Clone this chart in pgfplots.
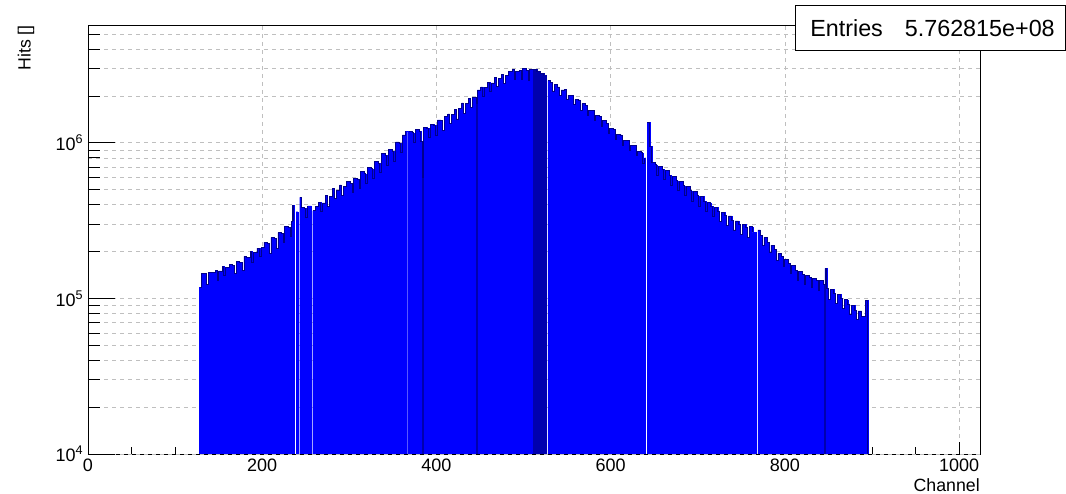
\documentclass[border=0pt]{standalone}
\usepackage{fontspec}
\setmainfont{Liberation Sans}
\usepackage{pgfplots}
\usepackage{pgfplotstable}
\pgfplotsset{compat=1.18}
\definecolor{histblue}{RGB}{0,0,255}
\definecolor{histline}{RGB}{0,0,140}
\definecolor{histdark}{RGB}{0,0,175}

\pgfplotstableread{
x y o
128 1.18e5 1.18e5
130 1.45e5 1.45e5
134 1.44e5 1.44e5
136 1.22e5 1.22e5
138 1.47e5 1.47e5
142 1.46e5 1.46e5
146 1.52e5 1.52e5
148 1.30e5 1.30e5
150 1.50e5 1.50e5
154 1.60e5 1.60e5
156 1.40e5 1.40e5
158 1.58e5 1.58e5
162 1.64e5 1.64e5
166 1.62e5 1.62e5
168 1.45e5 1.45e5
170 1.72e5 1.72e5
174 1.70e5 1.70e5
177 1.52e5 1.52e5
179 1.86e5 1.86e5
182 1.84e5 1.84e5
186 2.00e5 2.00e5
188 1.70e5 1.70e5
190 1.98e5 1.98e5
194 2.10e5 2.10e5
197 1.85e5 1.85e5
199 2.12e5 2.12e5
202 2.30e5 2.30e5
206 2.26e5 2.26e5
208 1.95e5 1.95e5
210 2.45e5 2.45e5
214 2.42e5 2.42e5
216 2.10e5 2.10e5
218 2.64e5 2.64e5
222 2.62e5 2.62e5
224 2.30e5 2.30e5
226 2.88e5 2.88e5
230 2.85e5 2.85e5
232 2.50e5 2.50e5
234 3.10e5 3.10e5
235 3.95e5 3.95e5
236 3.15e5 3.15e5
237 1 nan
239 3.60e5 3.60e5
241 1 nan
243 4.45e5 4.45e5
245 3.85e5 3.85e5
248 3.80e5 3.80e5
250 3.30e5 3.30e5
252 3.92e5 3.92e5
256 1 nan
258 3.65e5 3.65e5
261 3.90e5 3.90e5
265 4.15e5 4.15e5
267 3.60e5 3.60e5
269 4.10e5 4.10e5
273 4.55e5 4.55e5
275 3.90e5 3.90e5
277 4.50e5 4.50e5
281 5.10e5 5.10e5
283 4.40e5 4.40e5
285 4.95e5 4.95e5
289 5.35e5 5.35e5
291 4.60e5 4.60e5
293 5.20e5 5.20e5
297 5.60e5 5.60e5
301 5.50e5 5.50e5
303 4.80e5 4.80e5
305 5.90e5 5.90e5
309 5.85e5 5.85e5
311 5.10e5 5.10e5
313 6.50e5 6.50e5
317 6.30e5 6.30e5
319 5.50e5 5.50e5
321 6.95e5 6.95e5
325 6.80e5 6.80e5
327 5.90e5 5.90e5
329 7.55e5 7.55e5
333 7.40e5 7.40e5
335 6.40e5 6.40e5
337 8.50e5 8.50e5
341 8.30e5 8.30e5
343 7.10e5 7.10e5
345 9.00e5 9.00e5
349 8.80e5 8.80e5
351 7.60e5 7.60e5
353 1.01e6 1.01e6
357 9.90e5 9.90e5
359 8.60e5 8.60e5
361 1.12e6 1.12e6
364 1.18e6 1.18e6
367 1 nan
369 1.18e6 1.18e6
372 1.16e6 1.16e6
374 1.00e6 1.00e6
376 1.21e6 1.21e6
380 1.18e6 1.18e6
382 1.02e6 1.02e6
384 6.00e5 6.00e5
385 1.26e6 1.26e6
389 1.24e6 1.24e6
391 1.08e6 1.08e6
393 1.31e6 1.31e6
397 1.29e6 1.29e6
399 1.12e6 1.12e6
401 1.40e6 1.40e6
405 1.38e6 1.38e6
407 1.20e6 1.20e6
409 1.47e6 1.47e6
413 1.53e6 1.53e6
415 1.32e6 1.32e6
417 1.52e6 1.52e6
421 1.64e6 1.64e6
423 1.42e6 1.42e6
425 1.66e6 1.66e6
429 1.80e6 1.80e6
431 1.55e6 1.55e6
433 1.78e6 1.78e6
437 1.93e6 1.93e6
439 1.68e6 1.68e6
441 1.95e6 1.95e6
446 1.80e6 1.80e6
447 2.18e6 2.18e6
451 2.28e6 2.28e6
453 1.98e6 1.98e6
455 2.25e6 2.25e6
459 2.45e6 2.45e6
461 2.12e6 2.12e6
463 2.42e6 2.42e6
467 2.64e6 2.64e6
469 2.30e6 2.30e6
471 2.60e6 2.60e6
475 2.76e6 2.76e6
477 2.40e6 2.40e6
479 2.72e6 2.72e6
483 2.88e6 2.88e6
487 2.95e6 2.95e6
489 2.55e6 2.55e6
491 2.85e6 2.85e6
495 2.90e6 2.90e6
497 2.55e6 2.55e6
499 2.98e6 2.98e6
503 2.90e6 2.90e6
505 2.52e6 2.52e6
507 2.94e6 2.94e6
511 2.95e6 2.95e6
515 2.85e6 2.85e6
519 2.80e6 2.80e6
523 2.70e6 2.70e6
526 1 nan
528 2.50e6 2.50e6
531 2.45e6 2.45e6
533 2.15e6 2.15e6
535 2.38e6 2.38e6
539 2.28e6 2.28e6
541 2.00e6 2.00e6
543 2.18e6 2.18e6
547 2.20e6 2.20e6
549 1.90e6 1.90e6
551 2.02e6 2.02e6
555 2.02e6 2.02e6
557 1.75e6 1.75e6
559 1.90e6 1.90e6
563 1.88e6 1.88e6
565 1.62e6 1.62e6
567 1.78e6 1.78e6
571 1.74e6 1.74e6
573 1.50e6 1.50e6
575 1.62e6 1.62e6
579 1.62e6 1.62e6
581 1.40e6 1.40e6
583 1.50e6 1.50e6
587 1.47e6 1.47e6
589 1.28e6 1.28e6
591 1.38e6 1.38e6
595 1.33e6 1.33e6
597 1.15e6 1.15e6
599 1.24e6 1.24e6
603 1.22e6 1.22e6
605 1.05e6 1.05e6
607 1.13e6 1.13e6
611 1.12e6 1.12e6
613 9.60e5 9.60e5
615 1.04e6 1.04e6
619 1.03e6 1.03e6
621 8.90e5 8.90e5
623 9.60e5 9.60e5
627 9.60e5 9.60e5
629 8.30e5 8.30e5
631 8.80e5 8.80e5
635 8.60e5 8.60e5
637 7.40e5 7.40e5
639 8.00e5 8.00e5
640 1 nan
642 1.35e6 1.35e6
645 9.50e5 9.50e5
647 7.50e5 7.50e5
651 7.20e5 7.20e5
653 6.20e5 6.20e5
655 7.05e5 7.05e5
659 6.75e5 6.75e5
661 5.80e5 5.80e5
663 6.65e5 6.65e5
667 6.15e5 6.15e5
669 5.30e5 5.30e5
671 6.10e5 6.10e5
675 5.70e5 5.70e5
677 4.90e5 4.90e5
679 5.65e5 5.65e5
683 5.30e5 5.30e5
685 4.55e5 4.55e5
687 5.25e5 5.25e5
691 4.90e5 4.90e5
693 4.20e5 4.20e5
695 4.88e5 4.88e5
699 4.55e5 4.55e5
701 3.90e5 3.90e5
703 4.52e5 4.52e5
707 4.20e5 4.20e5
709 3.60e5 3.60e5
711 4.12e5 4.12e5
715 3.90e5 3.90e5
717 3.35e5 3.35e5
719 3.84e5 3.84e5
723 3.62e5 3.62e5
725 3.10e5 3.10e5
727 3.58e5 3.58e5
731 3.40e5 3.40e5
733 2.92e5 2.92e5
735 3.38e5 3.38e5
739 3.18e5 3.18e5
741 2.75e5 2.75e5
743 3.14e5 3.14e5
747 2.98e5 2.98e5
749 2.58e5 2.58e5
751 2.98e5 2.98e5
755 2.85e5 2.85e5
757 2.45e5 2.45e5
759 2.88e5 2.88e5
763 2.65e5 2.65e5
767 1 nan
769 2.75e5 2.75e5
772 2.55e5 2.55e5
774 2.20e5 2.20e5
776 2.46e5 2.46e5
780 2.30e5 2.30e5
782 1.98e5 1.98e5
784 2.20e5 2.20e5
788 2.05e5 2.05e5
790 1.76e5 1.76e5
792 1.95e5 1.95e5
796 1.85e5 1.85e5
798 1.60e5 1.60e5
800 1.78e5 1.78e5
804 1.68e5 1.68e5
806 1.45e5 1.45e5
808 1.63e5 1.63e5
812 1.52e5 1.52e5
814 1.31e5 1.31e5
816 1.48e5 1.48e5
820 1.43e5 1.43e5
822 1.23e5 1.23e5
824 1.41e5 1.41e5
828 1.36e5 1.36e5
830 1.17e5 1.17e5
832 1.35e5 1.35e5
836 1.31e5 1.31e5
838 1.13e5 1.13e5
840 1.30e5 1.30e5
844 1.22e5 1.22e5
846 1.56e5 1.56e5
848 1.15e5 1.15e5
850 9.90e4 9.90e4
852 1.14e5 1.14e5
856 1.08e5 1.08e5
858 9.30e4 9.30e4
860 1.06e5 1.06e5
864 1.00e5 1.00e5
866 8.60e4 8.60e4
868 9.80e4 9.80e4
872 9.20e4 9.20e4
874 7.90e4 7.90e4
876 9.00e4 9.00e4
880 8.40e4 8.40e4
882 7.30e4 7.30e4
884 8.30e4 8.30e4
888 7.70e4 7.70e4
892 9.70e4 9.70e4
895 1 1
}\hist

\pgfplotstableread{
x y
384 6.00e5
385 1
446 1.80e6
447 1
511 2.95e6
515 2.85e6
519 2.80e6
523 2.70e6
526 1
845 1.22e5
846 1
}\darkbins

\begin{document}
\begin{tikzpicture}
\useasboundingbox (-66pt,-29.25pt) rectangle (733.5pt,340.5pt);
\begin{axis}[
  at={(0,0)}, anchor=south west,
  width=669pt, height=321.75pt, scale only axis,
  xmin=0, xmax=1024,
  ymode=log, ymin=1e4, ymax=5.7e6,
  xtick={0,200,400,600,800,1000},
  minor x tick num=3,
  ytick={2e4,3e4,4e4,5e4,6e4,7e4,8e4,9e4,2e5,3e5,4e5,5e5,6e5,7e5,8e5,9e5,2e6,3e6,4e6,5e6},
  yticklabels={},
  yminorticks=false,
  extra y ticks={1e4,1e5,1e6},
  extra y tick labels={10\textsuperscript{4},10\textsuperscript{5},10\textsuperscript{6}},
  extra y tick style={grid=major, major tick length=20pt},
  xtick pos=bottom, ytick pos=left,
  tick align=inside,
  major tick length=9pt, minor tick length=5pt,
  tick style={black, line width=0.4pt},
  axis line style={black, line width=0.5pt},
  xmajorgrids, ymajorgrids,
  major grid style={gray!50, dashed, line width=0.35pt},
  /pgf/number format/assume math mode=true,
  /pgf/number format/1000 sep={},
  tick label style={font=\fontsize{13.5}{16}\selectfont},
  xlabel={Channel},
  xlabel style={at={(axis description cs:1,-0.072)}, anchor=east, inner sep=0pt, font=\fontsize{13.3}{16}\selectfont},
  ylabel={Hits []},
  ylabel style={at={(axis description cs:-0.0695,1)}, anchor=east, inner sep=0pt, font=\fontsize{13.3}{16}\selectfont},
]
\addplot[ybar interval, fill=histblue, draw=histblue, line width=0.1pt] table[x=x, y=y] {\hist};
\addplot[ybar interval, fill=histdark, draw=histdark, line width=0.1pt] table[x=x, y=y] {\darkbins};
\addplot[const plot, histline, line width=0.6pt, unbounded coords=jump, mark=none] table[x=x, y=o] {\hist};
\end{axis}
\draw[black, line width=0.6pt, fill=white] (530.25pt,303pt) rectangle (732.75pt,336.75pt);
\node[anchor=west, inner sep=0pt, font=\fontsize{17.5}{20}\selectfont] at (541.5pt,319.5pt) {Entries};
\node[anchor=east, inner sep=0pt, font=\fontsize{17.5}{20}\selectfont] at (725.25pt,319.5pt) {5.762815e+08};
\end{tikzpicture}
\end{document}
